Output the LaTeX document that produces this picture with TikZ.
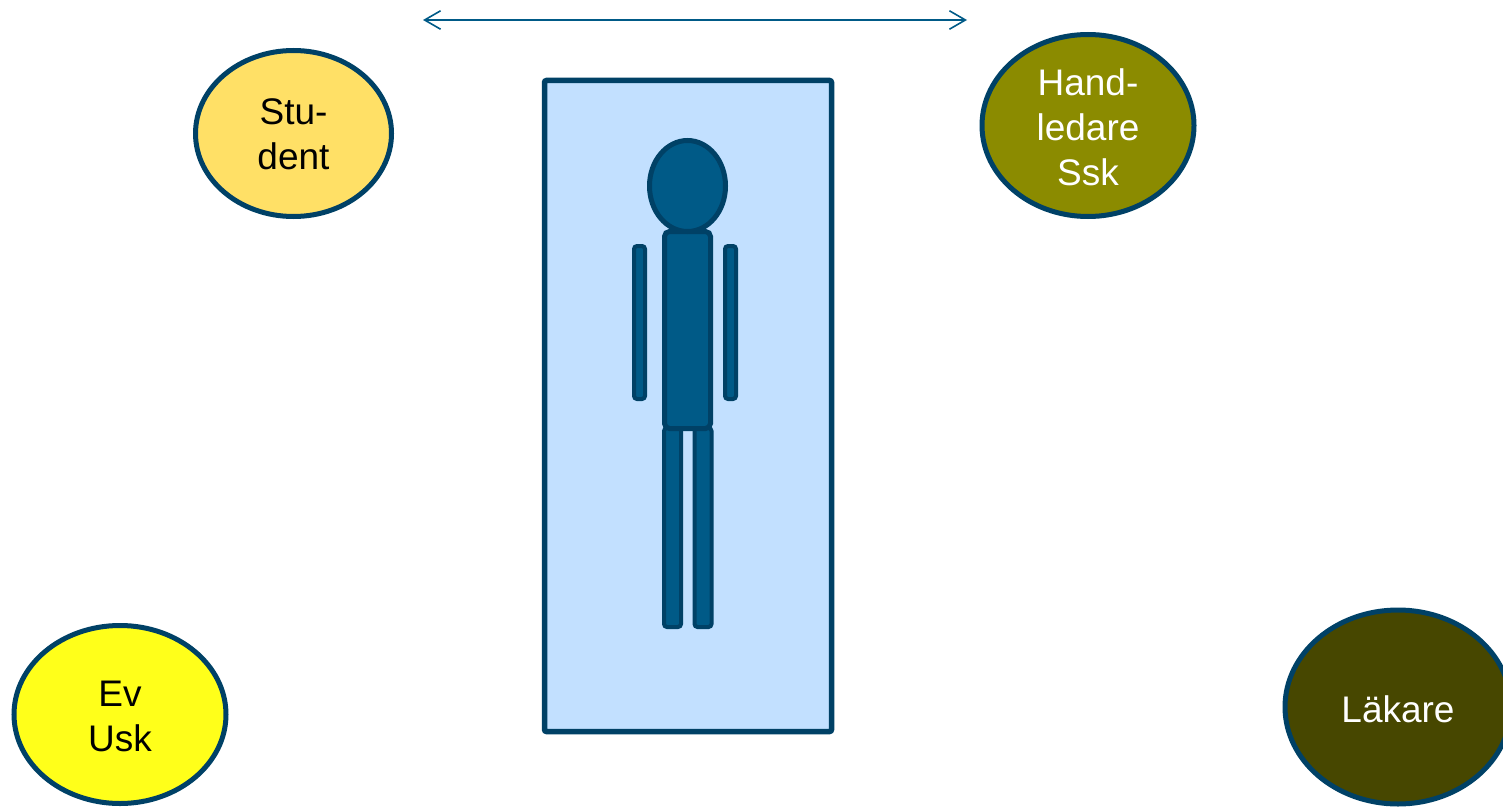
\documentclass[tikz,border=0pt]{standalone}
\usepackage{fontspec}
\setmainfont{Liberation Sans}
\usetikzlibrary{shapes.geometric,arrows.meta}
\definecolor{edgeblue}{HTML}{004166}
\definecolor{bodyblue}{HTML}{005A87}
\definecolor{bedblue}{HTML}{C2E0FF}
\definecolor{studentfill}{HTML}{FFE066}
\definecolor{sskfill}{HTML}{8B8B00}
\definecolor{uskfill}{HTML}{FFFF1A}
\definecolor{lakarefill}{HTML}{474700}
\newcommand{\rolestrut}[1][15.5pt]{\rule{0pt}{#1}}
\tikzset{
  rolebox/.style={ellipse, draw=edgeblue, line width=2.5pt, align=center, inner sep=0pt,
                  font=\fontsize{18.5}{22.5}\selectfont},
  bedbox/.style={rectangle, rounded corners=1pt, draw=edgeblue, line width=2.75pt, fill=bedblue},
  partbox/.style={rounded corners=2.5pt, draw=edgeblue, line width=2.5pt, fill=bodyblue, inner sep=0pt},
  limbbox/.style={rectangle, partbox, line width=2pt, rounded corners=1.5pt},
  spanarr/.style={{Straight Barb[length=8pt,width=10pt,angle'=60]}-{Straight Barb[length=8pt,width=10pt,angle'=60]}, line width=0.8pt, draw=bodyblue},
}
\begin{document}
\begin{tikzpicture}[x=0.5pt,y=-0.5pt]
    \useasboundingbox (0,0) rectangle (1503,808);
    \clip (0,0) rectangle (1503,808);
    \node[bedbox, minimum width=143.5pt, minimum height=325.5pt] (bed) at (688,406) {};
    % person on the bed
    \node[limbbox, minimum width=5.5pt, minimum height=76.5pt] (armL) at (639.5,322.5) {};
    \node[limbbox, minimum width=5.5pt, minimum height=76.5pt] (armR) at (730.5,322.5) {};
    \node[limbbox, minimum width=8.5pt, minimum height=99.5pt] (legL) at (672.5,527.5) {};
    \node[limbbox, minimum width=8.5pt, minimum height=99.5pt] (legR) at (703,527.5) {};
    \node[rectangle, partbox, minimum width=23pt, minimum height=98.5pt] (torso) at (687.5,330) {};
    \node[ellipse, partbox, minimum width=38pt, minimum height=45.5pt] (head) at (687.5,186) {};
    % the four roles
    \node[rolebox, fill=studentfill, minimum width=98pt, minimum height=83pt] (student) at (293.5,133.5) {\rolestrut[14pt]Stu-\\dent};
    \node[rolebox, fill=sskfill, text=white, minimum width=106pt, minimum height=91pt] (ssk) at (1088,125.5) {\rolestrut Hand-\\ledare\\Ssk};
    \node[rolebox, fill=uskfill, minimum width=106pt, minimum height=89pt] (usk) at (120,714.5) {\rolestrut[15pt]Ev\\Usk};
    \node[rolebox, fill=lakarefill, text=white, minimum width=113pt, minimum height=97pt] (lakare) at (1398,707) {\rolestrut Läkare};
    \coordinate (spanL) at (423,20);
    \coordinate (spanR) at (967,20);
    \draw[spanarr] (spanL)--(spanR);
  \end{tikzpicture}
\end{document}
